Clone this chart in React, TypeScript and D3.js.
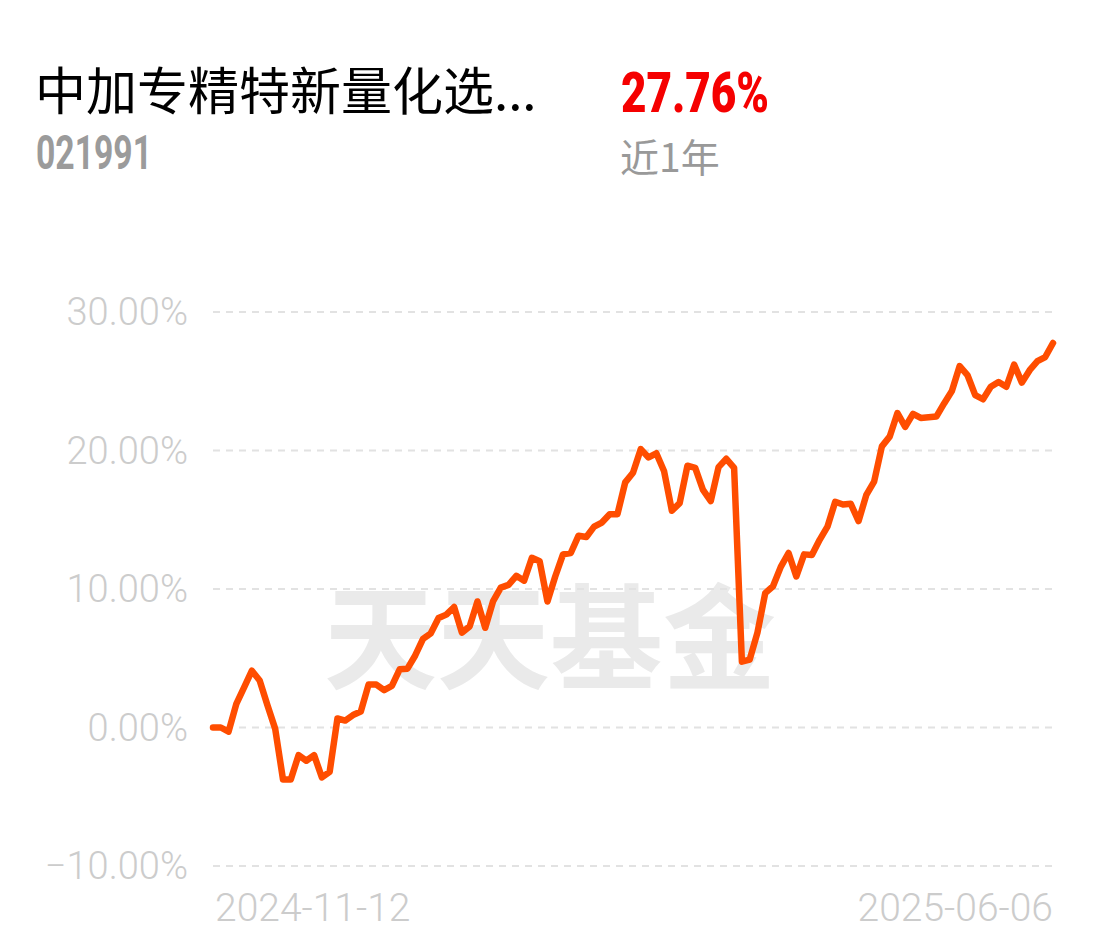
import React from 'react';
import * as d3 from 'd3';

// fund header
const fundName = '中加专精特新量化选...';
const fundCode = '021991';
const periodReturn = '27.76%';
const periodLabel = '近1年';

// y ticks and x edge labels
const yTicks = [30, 20, 10, 0, -10];
const xLabels = ['2024-11-12', '2025-06-06'];

// cumulative return (%), one point per trading sample
const returns = [
  0.0, 0.0, -0.3, 1.7, 2.9, 4.1, 3.4, 1.6, -0.1, -3.75,
  -3.75, -2.0, -2.4, -2.0, -3.6, -3.2, 0.65, 0.5, 0.9, 1.15,
  3.1, 3.1, 2.7, 3.0, 4.2, 4.25, 5.2, 6.4, 6.8, 7.9,
  8.15, 8.7, 6.85, 7.3, 9.1, 7.2, 9.1, 10.1, 10.3, 10.95,
  10.6, 12.25, 12.0, 9.1, 10.9, 12.5, 12.6, 13.85, 13.75, 14.5,
  14.8, 15.4, 15.4, 17.7, 18.4, 20.1, 19.5, 19.8, 18.5, 15.65,
  16.2, 18.9, 18.75, 17.15, 16.35, 18.8, 19.4, 18.75, 4.75, 4.9,
  6.85, 9.7, 10.2, 11.6, 12.6, 10.9, 12.5, 12.45, 13.55, 14.5,
  16.3, 16.1, 16.15, 14.9, 16.8, 17.75, 20.3, 21.0, 22.7, 21.7,
  22.65, 22.35, 22.4, 22.45, 23.4, 24.3, 26.1, 25.45, 24.0, 23.7,
  24.6, 24.95, 24.6, 26.2, 24.9, 25.8, 26.45, 26.75, 27.76,
];

const W = 1102;
const H = 951;

export default function App() {
  const x = d3.scaleLinear().domain([0, returns.length - 1]).range([213, 1053]);
  const y = d3.scaleLinear().domain([-10, 30]).range([866, 312]);

  const line = d3.line<number>()
    .x((_, i) => x(i))
    .y(d => y(d))
    .curve(d3.curveLinear);

  const sans = 'Roboto, "Noto Sans", sans-serif';
  const cjk = '"Noto Sans CJK SC", sans-serif';

  return (
    <svg width={W} height={H} style={{ position: 'absolute', left: 0, top: 0, background: '#fff' }}>
      <rect width={W} height={H} fill="#fff" />

      {/* header */}
      <text x={35} y={110} fontFamily={cjk} fontSize={51} fill="#000">{fundName}</text>
      <text x={36} y={169} fontFamily={sans} fontWeight={700} fontSize={48}
        textLength={116} lengthAdjust="spacingAndGlyphs" fill="#9b9b9b">{fundCode}</text>
      <text x={621} y={112} fontFamily={sans} fontWeight={900} fontSize={56}
        textLength={148} lengthAdjust="spacingAndGlyphs" fill="#f50000">{periodReturn}</text>
      <text x={620} y={172} fontFamily={cjk} fontSize={39} fill="#999">{periodLabel}</text>

      {/* watermark */}
      <text x={550} y={680} textAnchor="middle" fontFamily={cjk} fontWeight={700}
        fontSize={114} fill="#eaeaea" textLength={452} lengthAdjust="spacingAndGlyphs">天天基金</text>

      {/* grid + y labels */}
      {yTicks.map(t => (
        <g key={t}>
          <line x1={213} x2={1055} y1={y(t)} y2={y(t)} stroke="#e2e2e2"
            strokeWidth={2} strokeDasharray="7 6" />
          <text x={188} y={y(t) + 13} textAnchor="end" fontFamily={sans} fontWeight={300}
            fontSize={38} fill="#cccccc">{d3.format('.2f')(t) + '%'}</text>
        </g>
      ))}

      {/* x edge labels */}
      <text x={215} y={921} fontFamily={sans} fontWeight={300} fontSize={39} fill="#cccccc">{xLabels[0]}</text>
      <text x={1053} y={921} textAnchor="end" fontFamily={sans} fontWeight={300} fontSize={39} fill="#cccccc">{xLabels[1]}</text>

      {/* return line */}
      <path d={line(returns) || ''} fill="none" stroke="#ff4d00" strokeWidth={6.5}
        strokeLinejoin="round" strokeLinecap="round" />
    </svg>
  );
}
